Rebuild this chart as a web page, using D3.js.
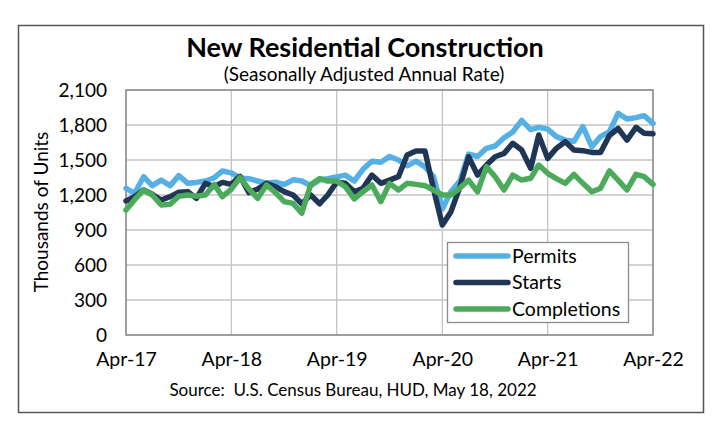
<!DOCTYPE html>
<html><head><meta charset="utf-8">
<script src="https://cdn.jsdelivr.net/npm/d3@7"></script>
<style>body{margin:0;background:#fff;} text{font-family:Lato,"Open Sans",sans-serif;fill:#000;}</style>
</head><body>
<svg id="c" width="724" height="428"></svg>
<script>
const startMonth = new Date(2017, 3, 1);
const endMonth = new Date(2022, 3, 1);
const xTickLabels = ["Apr-17","Apr-18","Apr-19","Apr-20","Apr-21","Apr-22"];
const yTicks = [0,300,600,900,1200,1500,1800,2100];
const seriesNames = ["Permits","Starts","Completions"];
const permits = [1257,1214,1357,1280,1328,1280,1366,1300,1308,1320,1348,1406,
  1390,1345,1340,1320,1300,1310,1290,1330,1320,1280,1330,1340,
  1355,1370,1320,1420,1490,1480,1530,1500,1450,1490,1440,1360,
  1080,1230,1320,1550,1530,1600,1620,1690,1740,1840,1760,1780,
  1765,1700,1670,1660,1786,1614,1700,1743,1900,1851,1863,1880,1814];
const starts = [1149,1186,1243,1206,1157,1186,1223,1229,1171,1300,1271,1308,
  1291,1360,1220,1250,1300,1271,1229,1200,1125,1200,1125,1200,
  1310,1300,1228,1257,1371,1300,1328,1357,1543,1577,1577,1257,
  943,1057,1270,1528,1371,1457,1528,1557,1643,1586,1428,1714,
  1514,1600,1657,1586,1580,1565,1565,1710,1770,1670,1780,1730,1725];
const completions = [1071,1160,1243,1200,1114,1120,1190,1200,1190,1200,1290,1186,
  1250,1350,1250,1171,1286,1220,1143,1128,1045,1290,1340,1320,
  1320,1271,1166,1228,1286,1143,1300,1243,1300,1291,1280,1243,
  1200,1200,1260,1328,1228,1443,1357,1243,1371,1328,1343,1457,
  1386,1340,1300,1377,1300,1228,1257,1406,1328,1243,1377,1357,1291];
const colors = ["#55B0E6","#1F3657","#4CAA5B"];

const months = d3.timeMonth.range(startMonth, d3.timeMonth.offset(endMonth, 1));
const svg = d3.select("#c");
const L = 126, R = 653, T = 90, B = 335;
const x = d3.scaleTime().domain([startMonth, endMonth]).range([L, R]);
const y = d3.scaleLinear().domain([0, 2100]).range([B, T]);

// outer border
svg.append("rect").attr("x",18.5).attr("y",25.5).attr("width",685).attr("height",387)
  .attr("fill","none").attr("stroke","#555").attr("stroke-width",1.5);

// gridlines
const tickDates = xTickLabels.map((d,i)=>d3.timeYear.offset(startMonth, i));
svg.append("g").selectAll("line.h").data(yTicks).join("line")
  .attr("x1",L).attr("x2",R).attr("y1",d=>y(d)).attr("y2",d=>y(d))
  .attr("stroke","#C4C4C4").attr("stroke-width",1.3);
svg.append("g").selectAll("line.v").data(tickDates).join("line")
  .attr("x1",d=>x(d)).attr("x2",d=>x(d)).attr("y1",T).attr("y2",B)
  .attr("stroke","#C4C4C4").attr("stroke-width",1.3);
svg.append("rect").attr("x",L).attr("y",T).attr("width",R-L).attr("height",B-T)
  .attr("fill","none").attr("stroke","#8C8C8C").attr("stroke-width",1.5);

// axes
const yAxis = d3.axisLeft(y).tickValues(yTicks).tickSize(0).tickPadding(19).tickFormat(d3.format(","));
const gy = svg.append("g").attr("transform",`translate(${L},0)`).call(yAxis);
gy.select(".domain").remove();
gy.selectAll("text").style("font-size","19px").attr("dy","0.35em");
const xAxis = d3.axisBottom(x).tickValues(tickDates).tickSize(0).tickPadding(17)
  .tickFormat((d,i)=>xTickLabels[i]);
const gx = svg.append("g").attr("transform",`translate(0,${B})`).call(xAxis);
gx.select(".domain").remove();
gx.selectAll("text").style("font-size","19.5px");

// lines
const line = d3.line().x((d,i)=>x(months[i])).y(d=>y(d));
[permits, starts, completions].forEach((s,k)=>{
  svg.append("path").datum(s).attr("d",line).attr("fill","none")
    .attr("stroke",colors[k]).attr("stroke-width",5.5)
    .attr("stroke-linejoin","round").attr("stroke-linecap","round");
});

// legend
svg.append("rect").attr("x",447.5).attr("y",242.5).attr("width",181).attr("height",80)
  .attr("fill","#fff").attr("stroke","#8C8C8C").attr("stroke-width",1.3);
const lg = svg.append("g").selectAll("g").data(seriesNames).join("g")
  .attr("transform",(d,i)=>`translate(0,${256 + i*26.5})`);
lg.append("line").attr("x1",456).attr("x2",508).attr("stroke",(d,i)=>colors[i])
  .attr("stroke-width",5.5).attr("stroke-linecap","round");
lg.append("text").attr("x",512).attr("dy","0.35em").style("font-size","19.5px").text(d=>d);

// titles
svg.append("text").attr("x",365).attr("y",57).attr("text-anchor","middle")
  .style("font-size","27px").style("font-weight","bold").text("New Residential Construction");
svg.append("text").attr("x",364).attr("y",81).attr("text-anchor","middle")
  .style("font-size","19px").text("(Seasonally Adjusted Annual Rate)");
svg.append("text").attr("transform","translate(48,212) rotate(-90)").attr("text-anchor","middle")
  .style("font-size","19px").text("Thousands of Units");
svg.append("text").attr("x",353).attr("y",396).attr("text-anchor","middle")
  .style("font-size","17px").style("white-space","pre").attr("xml:space","preserve")
  .text("Source:  U.S. Census Bureau, HUD, May 18, 2022");
</script>
</body></html>
